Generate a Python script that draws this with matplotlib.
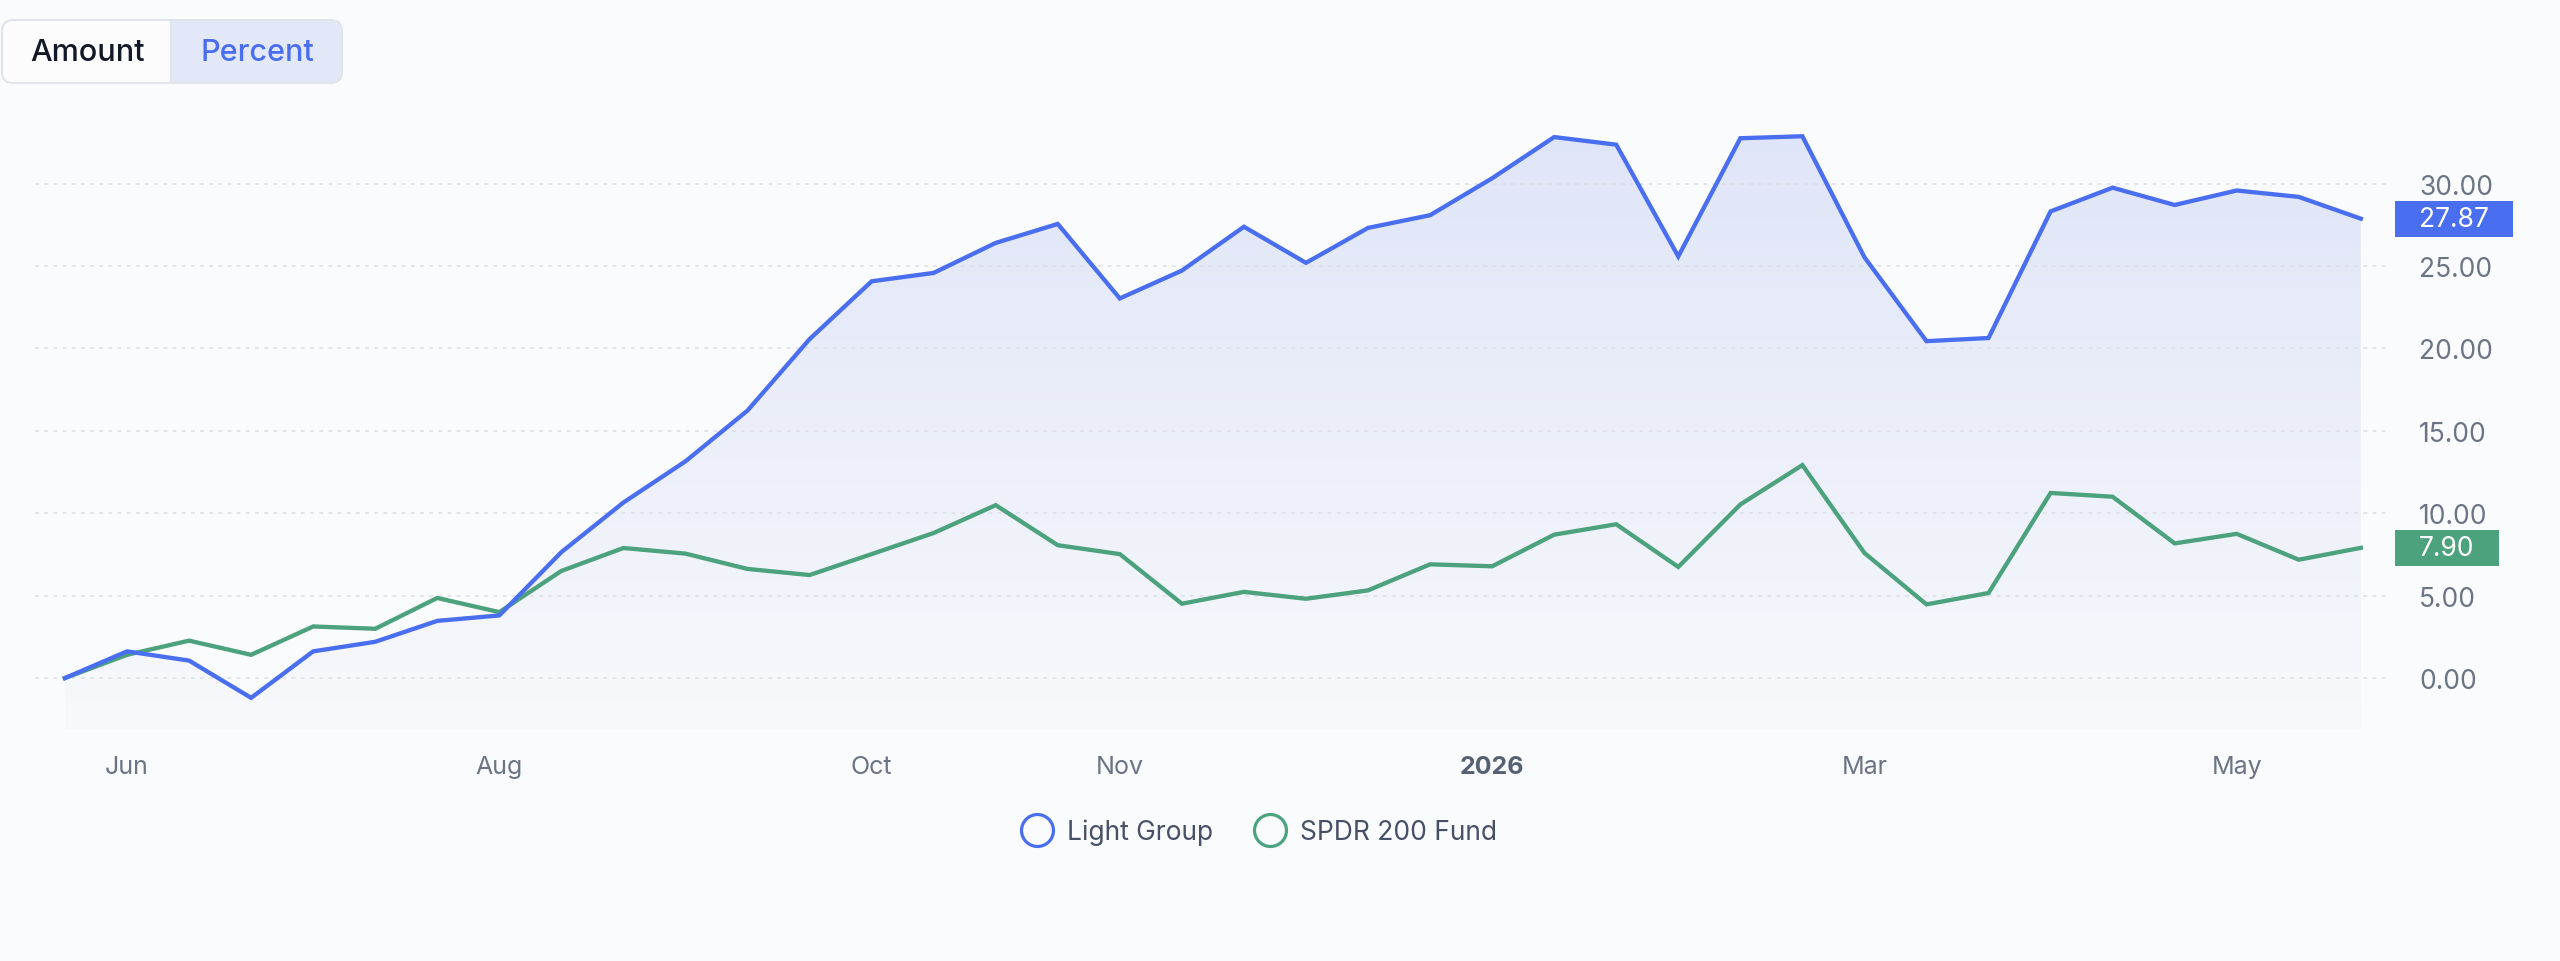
import matplotlib.pyplot as plt
import numpy as np
from matplotlib.patches import FancyBboxPatch, Rectangle
from matplotlib.lines import Line2D

plt.rcParams['font.family'] = ['Inter', 'DejaVu Sans']

# values (percent return)
light_group = [0.00, 1.62, 1.06, -1.20, 1.62, 2.20, 3.47, 3.80, 7.64, 10.65,
               13.15, 16.23, 20.56, 24.07, 24.58, 26.40, 27.55, 23.03, 24.72, 27.38,
               25.19, 27.31, 28.08, 30.32, 32.82, 32.36, 25.58, 32.75, 32.87, 25.53,
               20.44, 20.63, 28.31, 29.75, 28.70, 29.58, 29.19, 27.87]
spdr_fund = [0.00, 1.41, 2.27, 1.41, 3.13, 2.99, 4.86, 4.00, 6.50, 7.89,
             7.55, 6.62, 6.25, 7.52, 8.80, 10.49, 8.06, 7.52, 4.51, 5.23,
             4.81, 5.32, 6.90, 6.78, 8.70, 9.33, 6.74, 10.53, 12.92, 7.59,
             4.47, 5.16, 11.23, 11.00, 8.17, 8.75, 7.18, 7.90]
month_labels = ['Jun', 'Aug', 'Oct', 'Nov', '2026', 'Mar', 'May']
month_idx = [1, 7, 13, 17, 23, 29, 35]
y_ticks = [0, 5, 10, 15, 20, 25, 30]

names = ['Light Group', 'SPDR 200 Fund']
blue = '#4a6ef0'
green = '#4ba27c'
bg = '#fafbfd'
W, H = 2560, 962

fig = plt.figure(figsize=(W / 100, H / 100), dpi=100, facecolor=bg)
ax = fig.add_axes([35 / W, 1 - 730 / H, 2355 / W, 630 / H])
ax.set_facecolor(bg)

x = np.arange(len(light_group))
ax.set_xlim(-0.483, 37.47)
ax.set_ylim(-3.09, 35.13)

# gradient area under the blue line
poly = ax.fill_between(x, light_group, -3.09, facecolor='none', edgecolor='none')
grad = np.linspace(0, 1, 256).reshape(-1, 1)
top_c = np.array([0.870, 0.894, 0.972])
bot_c = np.array([0.973, 0.976, 0.988])
img = top_c + (bot_c - top_c) * grad[..., None]
img = img.reshape(256, 1, 3)
im = ax.imshow(img, extent=[0, len(x) - 1, -3.09, 35.13], aspect='auto',
               origin='upper', zorder=1)
im.set_clip_path(poly.get_paths()[0], transform=ax.transData)

for v in y_ticks:
    ax.axhline(v, color='#dcdfe5', lw=1.1, ls=(0, (2.6, 3.4)), zorder=2)

ax.plot(x, spdr_fund, color=green, lw=3.1, zorder=4, solid_joinstyle='miter')
ax.plot(x, light_group, color=blue, lw=3.1, zorder=5, solid_joinstyle='miter')

for s in ax.spines.values():
    s.set_visible(False)

ax.set_xticks(month_idx, month_labels)
ax.tick_params(axis='x', length=0, pad=19, labelsize=18, labelcolor='#6b7385')
for lab in ax.get_xticklabels():
    if lab.get_text() == '2026':
        lab.set_fontweight('bold')
        lab.set_color('#566074')
ax.yaxis.tick_right()
ax.set_yticks(y_ticks, [f'{v:.2f}' for v in y_ticks])
ax.tick_params(axis='y', length=0, pad=21, labelsize=19, labelcolor='#6b7385')

# overlay in pixel coordinates
ov = fig.add_axes([0, 0, 1, 1], zorder=10)
ov.set_xlim(0, W)
ov.set_ylim(H, 0)
ov.axis('off')
ov.patch.set_alpha(0)

# toggle buttons
ov.add_patch(FancyBboxPatch((2, 21), 340, 63, boxstyle='round,pad=0,rounding_size=11',
                            facecolor='#fcfcfd', edgecolor='none'))
ov.add_patch(FancyBboxPatch((171, 21), 171, 63, boxstyle='round,pad=0,rounding_size=11',
                            facecolor='#e3e8f9', edgecolor='none'))
ov.add_patch(Rectangle((171, 21), 20, 63, facecolor='#e3e8f9', edgecolor='none'))
ov.add_patch(FancyBboxPatch((2, 21), 340, 63, boxstyle='round,pad=0,rounding_size=11',
                            facecolor='none', edgecolor='#e1e4eb', lw=1.5))
ov.plot([171, 171], [22, 83], color='#e1e4eb', lw=1.5)
ov.text(87, 53, 'Amount', fontsize=22, fontweight='medium', color='#131826',
        ha='center', va='center')
ov.text(257, 53, 'Percent', fontsize=22, fontweight='medium', color=blue,
        ha='center', va='center')

# last value badges
renderer = fig.canvas.get_renderer()
for vals, col in [(light_group, blue), (spdr_fund, green)]:
    yv = vals[-1]
    ypix = H - ax.transData.transform((0, yv))[1]
    t = ov.text(2419, ypix, f'{yv:.2f}', fontsize=19, color='white',
                ha='left', va='center', zorder=6)
    bb = t.get_window_extent(renderer=renderer)
    ov.add_patch(Rectangle((2395, ypix - 18), bb.x1 + 24 - 2395, 36,
                           facecolor=col, edgecolor='none', zorder=5))

handles = [Line2D([], [], marker='o', ls='none', markersize=23, markerfacecolor='none',
                  markeredgecolor=c, markeredgewidth=2.3) for c in (blue, green)]
fig.legend(handles, names, loc='center', bbox_to_anchor=(1259 / W, 1 - 833 / H),
           ncol=2, frameon=False, fontsize=19, labelcolor='#475066',
           handlelength=1.2, handletextpad=0.55, columnspacing=1.55)

fig.savefig('out.png', dpi=100, facecolor=bg)
